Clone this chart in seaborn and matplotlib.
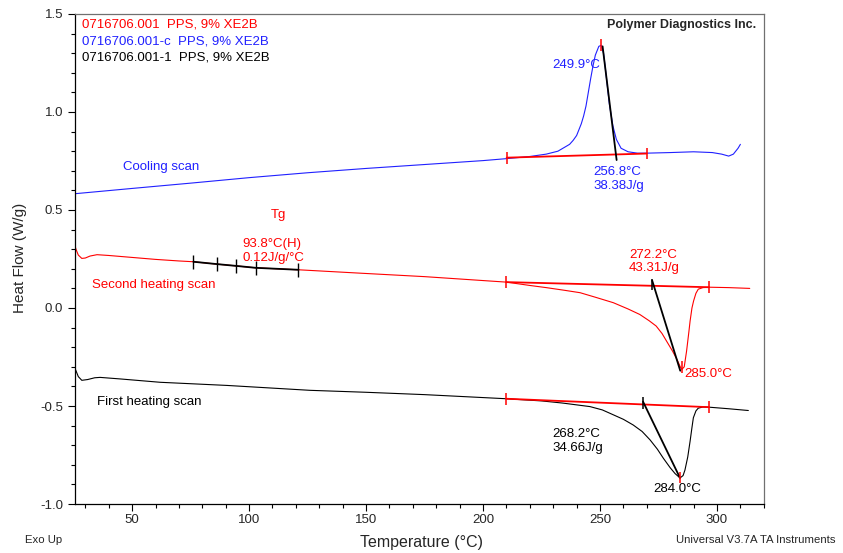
import numpy as np
import pandas as pd
import seaborn as sns
import matplotlib.pyplot as plt
from matplotlib.ticker import MultipleLocator, FormatStrFormatter

# --- curves (temperature in C, heat flow in W/g) ---
cool_T = [25.5, 50, 75, 100, 125, 150, 175, 200, 210, 220, 227, 232, 237, 238.5, 240,
          242, 243, 244, 245, 246, 247, 248, 249.5, 250.5, 251.5, 252.5, 254, 255.5,
          257, 259, 262, 266, 270, 280, 290, 298, 302, 305, 307, 309, 310]
cool_hf = [0.583, 0.61, 0.637, 0.665, 0.69, 0.712, 0.732, 0.752, 0.762, 0.773, 0.785,
           0.80, 0.835, 0.855, 0.88, 0.94, 0.98, 1.03, 1.10, 1.17, 1.235, 1.29, 1.335,
           1.34, 1.30, 1.20, 1.04, 0.93, 0.86, 0.815, 0.797, 0.79, 0.79, 0.793, 0.797,
           0.793, 0.785, 0.775, 0.785, 0.815, 0.835]

heat2_T = [25.3, 26, 27, 28.5, 30, 32, 35, 40, 50, 60, 70, 76.2, 86.2, 94.3, 102.8,
           121.1, 147, 175, 200, 210, 220, 227, 235, 241.5, 248, 255.7, 262, 267, 271,
           274, 276.5, 278.5, 281, 283, 284.3, 285, 286, 287, 288, 288.5, 289.3, 290,
           291, 292, 294, 297, 305, 314]
heat2_hf = [0.33, 0.30, 0.27, 0.253, 0.255, 0.265, 0.272, 0.268, 0.258, 0.248, 0.240,
            0.236, 0.224, 0.215, 0.205, 0.195, 0.178, 0.16, 0.14, 0.132, 0.115, 0.104,
            0.09, 0.078, 0.055, 0.027, -0.005, -0.033, -0.065, -0.092, -0.13, -0.17,
            -0.22, -0.265, -0.30, -0.313, -0.30, -0.22, -0.12, -0.067, 0.0, 0.036,
            0.075, 0.096, 0.104, 0.106, 0.104, 0.10]

heat1_T = [25.3, 26, 27, 28.5, 31, 34, 36.3, 45, 62, 90.5, 126, 150, 175, 200, 210,
           225, 234, 245.7, 251, 255.7, 260, 264.2, 268, 271.4, 274.5, 277.1, 280,
           282.1, 284.2, 285.5, 286.3, 287.5, 288.5, 289.3, 289.9, 291, 292, 294,
           296.6, 305, 313.4]
heat1_hf = [-0.30, -0.32, -0.35, -0.369, -0.365, -0.356, -0.354, -0.362, -0.379,
            -0.395, -0.42, -0.43, -0.442, -0.457, -0.463, -0.474, -0.485, -0.503,
            -0.52, -0.545, -0.568, -0.597, -0.63, -0.673, -0.72, -0.767, -0.815,
            -0.845, -0.867, -0.855, -0.827, -0.76, -0.68, -0.61, -0.56, -0.525,
            -0.511, -0.505, -0.506, -0.514, -0.523]

# --- analysis results (baselines, tangents, markers) ---
cool_base_T, cool_base_hf = [210.1, 270.0], [0.767, 0.788]
cool_tan_T, cool_tan_hf = [251.1, 257.1], [1.335, 0.755]
cool_peak_T, cool_peak_hf = [250.3], [1.34]

heat2_base_T, heat2_base_hf = [210.0, 296.6], [0.132, 0.106]
heat2_tan_T, heat2_tan_hf = [272.3, 284.3], [0.14, -0.32]
heat2_onset_T, heat2_onset_hf = [272.3], [0.12]
heat2_peak_T, heat2_peak_hf = [285.0], [-0.30]

heat1_base_T, heat1_base_hf = [210.0, 296.6], [-0.463, -0.506]
heat1_tan_T, heat1_tan_hf = [268.4, 284.2], [-0.478, -0.867]
heat1_onset_T, heat1_onset_hf = [268.4], [-0.485]
heat1_peak_T, heat1_peak_hf = [284.2], [-0.865]

tg_T = [76.2, 86.2, 94.3, 102.8, 121.1]
tg_hf = [0.236, 0.224, 0.215, 0.205, 0.195]

# annotations: (text, T, heat flow, colour, ha)
notes = [
    ("249.9°C", 229.5, 1.241, "blue", "left"),
    ("256.8°C", 247.0, 0.692, "blue", "left"),
    ("38.38J/g", 247.0, 0.621, "blue", "left"),
    ("Cooling scan", 46.3, 0.72, "blue", "left"),
    ("Tg", 112.4, 0.472, "red", "center"),
    ("93.8°C(H)", 97.0, 0.328, "red", "left"),
    ("0.12J/g/°C", 97.0, 0.256, "red", "left"),
    ("Second heating scan", 32.9, 0.118, "red", "left"),
    ("272.2°C", 262.4, 0.272, "red", "left"),
    ("43.31J/g", 262.4, 0.205, "red", "left"),
    ("285.0°C", 285.9, -0.338, "red", "left"),
    ("First heating scan", 35.0, -0.482, "black", "left"),
    ("268.2°C", 229.5, -0.641, "black", "left"),
    ("34.66J/g", 229.5, -0.713, "black", "left"),
    ("284.0°C", 272.6, -0.923, "black", "left"),
]
files = ["0716706.001  PPS, 9% XE2B", "0716706.001-c  PPS, 9% XE2B",
         "0716706.001-1  PPS, 9% XE2B"]
file_colors = ["#FF0000", "#2020FF", "black"]
file_y = [1.446, 1.362, 1.277]

sns.set_theme(style="ticks")
plt.rcParams['font.family'] = ['Liberation Sans', 'DejaVu Sans']
plt.rcParams['axes.unicode_minus'] = False

RED, BLUE = "#FF0000", "#2020FF"

fig = plt.figure(figsize=(8.43, 5.53), dpi=100)
ax = fig.add_axes([0.089, 0.0886, 0.8173, 0.8861])

curves = [(cool_T, cool_hf, BLUE), (heat2_T, heat2_hf, RED), (heat1_T, heat1_hf, "black")]
for T, hf, c in curves:
    d = pd.DataFrame({"T": T, "hf": hf})
    sns.lineplot(data=d, x="T", y="hf", ax=ax, color=c, lw=0.8, sort=False, estimator=None)

# baselines with end ticks
for T, hf in [(cool_base_T, cool_base_hf), (heat2_base_T, heat2_base_hf),
              (heat1_base_T, heat1_base_hf)]:
    ax.plot(T, hf, color=RED, lw=1.3)
    ax.vlines(T, np.array(hf) - 0.03, np.array(hf) + 0.03, color=RED, lw=1.1)

# tangents
for T, hf in [(cool_tan_T, cool_tan_hf), (heat2_tan_T, heat2_tan_hf),
              (heat1_tan_T, heat1_tan_hf)]:
    ax.plot(T, hf, color="black", lw=1.3)

for T, hf in [(heat2_onset_T, heat2_onset_hf), (heat1_onset_T, heat1_onset_hf)]:
    ax.vlines(T, np.array(hf) - 0.03, np.array(hf) + 0.03, color="black", lw=1.1)
for T, hf in [(cool_peak_T, cool_peak_hf), (heat2_peak_T, heat2_peak_hf),
              (heat1_peak_T, heat1_peak_hf)]:
    ax.vlines(T, np.array(hf) - 0.03, np.array(hf) + 0.03, color=RED, lw=1.1)

# Tg step
ax.plot(tg_T, tg_hf, color="black", lw=1.3)
ax.vlines(tg_T, np.array(tg_hf) - 0.035, np.array(tg_hf) + 0.035, color="black", lw=1.0)

cmap = {"red": RED, "blue": BLUE, "black": "black"}
for txt, x, y, c, ha in notes:
    ax.text(x, y, txt, color=cmap[c], ha=ha, va="center", fontsize=9.5)

for txt, c, y in zip(files, file_colors, file_y):
    ax.text(28.6, y, txt, color=c, ha="left", va="center", fontsize=9.5)
ax.text(316.8, 1.446, "Polymer Diagnostics Inc.", ha="right", va="center",
        fontsize=9, fontweight="bold")

ax.set_xlim(25.6, 320.1)
ax.set_ylim(-1.0, 1.5)
ax.set_xticks([50, 100, 150, 200, 250, 300])
ax.xaxis.set_minor_locator(MultipleLocator(10))
ax.yaxis.set_major_locator(MultipleLocator(0.5))
ax.yaxis.set_minor_locator(MultipleLocator(0.1))
ax.yaxis.set_major_formatter(FormatStrFormatter("%.1f"))
ax.tick_params(which="major", length=5, width=0.8, labelsize=9.5, color="black")
ax.tick_params(which="minor", length=2.8, width=0.8, color="black")
ax.tick_params(axis="x", pad=2)
ax.tick_params(axis="y", pad=3.5)
ax.set_xlabel("")
ax.set_ylabel("")
for s in ["left", "bottom"]:
    ax.spines[s].set_color("black")
    ax.spines[s].set_linewidth(0.9)
for s in ["top", "right"]:
    ax.spines[s].set_visible(True)
    ax.spines[s].set_color("#707070")
    ax.spines[s].set_linewidth(0.9)

fig.text(20 / 843, 1 - 258 / 553, "Heat Flow (W/g)", rotation=90, ha="center",
         va="center", fontsize=11)
fig.text(421 / 843, 1 - 542 / 553, "Temperature (°C)", ha="center", va="center",
         fontsize=11.5)
fig.text(25 / 843, 1 - 540 / 553, "Exo Up", ha="left", va="center", fontsize=8.2)
fig.text(836 / 843, 1 - 540 / 553, "Universal V3.7A TA Instruments", ha="right",
         va="center", fontsize=8.2)

fig.savefig("out.png", dpi=100)
